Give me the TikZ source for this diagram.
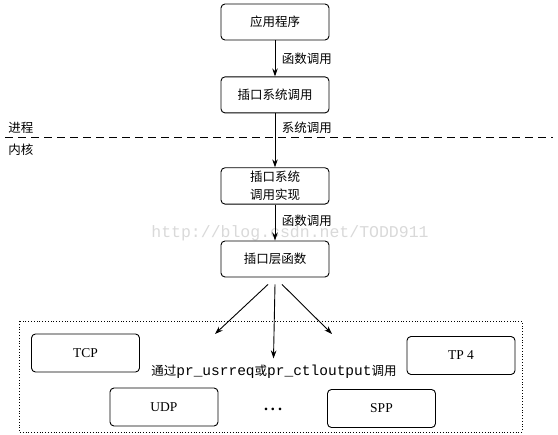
\documentclass[tikz,border=0pt]{standalone}
\usepackage{fontspec}
\setmainfont{Liberation Serif}
\setmonofont{Liberation Mono}
\newfontfamily\cjk{Noto Sans CJK SC}
\usetikzlibrary{arrows.meta,calc,positioning}

\begin{document}
\begin{tikzpicture}[x=1pt,y=-1pt,>={Stealth[length=8pt,width=5.5pt]},
    box/.style={rounded corners=4pt,draw,line width=0.9pt,minimum width=108pt,minimum height=36pt,align=center,font=\cjk\fontsize{12.5}{18}\selectfont},
    protobox/.style={box,minimum height=38pt,font=\fontsize{13.5}{15}\selectfont},
    lbl/.style={font=\cjk\fontsize{12.5}{15}\selectfont},
    link/.style={->,line width=0.9pt}]
  \useasboundingbox (0,0) rectangle (558,435);
  % watermark
  \node[text=gray!30,font=\ttfamily\fontsize{16.5}{18}\selectfont,inner sep=0pt] (mark) at (290,233) {http://blog.csdn.net/TODD911};
  % process side
  \node[box] (app) at (275,22) {应用程序};
  \node[box,below=36pt of app] (sockcall) {插口系统调用};
  \draw[link] (app) -- node[lbl,right,xshift=3pt]{函数调用} (sockcall);
  % boundary
  \coordinate (sepL) at (5,137);
  \coordinate (sepR) at (553,137);
  \draw[dash pattern=on 8pt off 5pt,line width=0.8pt] (sepL) -- (sepR);
  \node[lbl] (proc) at (21,128) {进程};
  \node[lbl] (kern) at (21,150) {内核};
  % kernel side
  \node[box,below=54pt of sockcall] (sockimpl) {插口系统\\调用实现};
  \draw[link] (sockcall) -- node[lbl,right,pos=0.27,xshift=3pt]{系统调用} (sockimpl);
  \node[box,below=36pt of sockimpl] (socklayer) {插口层函数};
  \draw[link] (sockimpl) -- node[lbl,right,pos=0.45,xshift=3pt]{函数调用} (socklayer);
  % protocols
  \draw[dotted,line width=0.8pt] (19,321) rectangle (522,432);
  \node[protobox] (tcp) at (85.5,353) {TCP};
  \node[protobox] (tp4) at (461,355.5) {TP 4};
  \node[protobox] (udp) at (164,407) {UDP};
  \node[protobox] (spp) at (381.5,408.5) {SPP};
  \node[font=\cjk\fontsize{12.5}{15}\selectfont] (via) at (274,372)
    {通过{\ttfamily\fontsize{14.5}{15}\selectfont pr\_usrreq}或{\ttfamily\fontsize{14.5}{15}\selectfont pr\_ctloutput}调用};
  \node[anchor=base,font=\bfseries\fontsize{16}{16}\selectfont] (dots) at (273,411) {.\hspace{3pt}.\hspace{3pt}.};
  \coordinate (toL) at (215,334);
  \coordinate (toM) at (273.5,358.5);
  \coordinate (toR) at (332,334);
  \draw[link] ($(socklayer.south)+(-7,7)$) -- (toL);
  \draw[link] ($(socklayer.south)+(0,7)$) -- (toM);
  \draw[link] ($(socklayer.south)+(7,7)$) -- (toR);
\end{tikzpicture}
\end{document}
